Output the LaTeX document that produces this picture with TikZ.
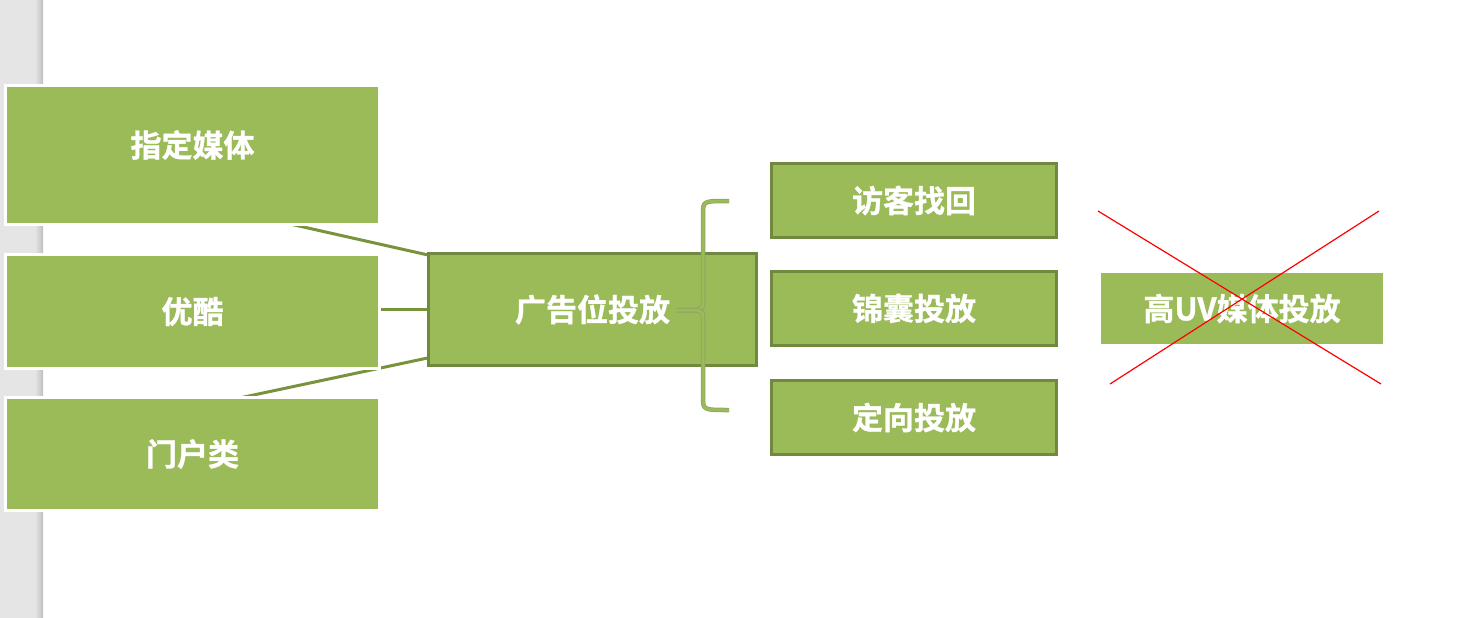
\documentclass[tikz,border=0pt]{standalone}
\usepackage{fontspec}
\setmainfont{Noto Sans CJK SC}[BoldFont={Noto Sans CJK SC Bold},BoldFeatures={FakeBold=1}]
\usetikzlibrary{backgrounds}
\definecolor{leaf}{HTML}{9BBB59}
\definecolor{leafedge}{HTML}{71893F}
\definecolor{leafline}{HTML}{77933C}

\begin{document}
\begin{tikzpicture}[x=1pt,y=-1pt,
  txt/.style={text=white, font=\fontsize{31}{31}\selectfont\bfseries},
  box/.style={txt, fill=leaf, inner sep=0pt},
  leftbox/.style={box, draw=white, line width=3pt, minimum width=374pt},
  framed/.style={box, draw=leafedge, line width=3pt},
  link/.style={leafline, line width=3pt},
  brace/.style={line width=3pt, line join=round,
    preaction={draw=leafedge!80, line width=4.5pt, line join=round}, draw=leaf}]
  \useasboundingbox (0,0) rectangle (1459,618);
  % page edge
  \fill[black!10] (0,0) rectangle (35,618);
  \shade[left color=black!10, right color=black!25] (35,0) rectangle (43,618);

  \node[leftbox, minimum height=139pt, label={[txt,yshift=10pt]center:指定媒体}] (media) at (192.5,155) {};
  \node[leftbox, minimum height=114pt] (youku) at (192.5,311.5) {优酷};
  \node[leftbox, minimum height=113pt] (portal) at (192.5,454) {门户类};
  \node[framed, minimum width=328pt, minimum height=112pt] (hub) at (592.5,309.5) {广告位投放};
  \node[framed, minimum width=285pt, minimum height=74pt] (visit) at (914,200.5) {访客找回};
  \node[framed, minimum width=285pt, minimum height=74pt] (bag) at (914,308.5) {锦囊投放};
  \node[framed, minimum width=285pt, minimum height=74pt] (target) at (914,417.5) {定向投放};
  \node[box, minimum width=282pt, minimum height=71pt] (uv) at (1242,308.5) {高UV媒体投放};

  \begin{scope}[on background layer]
    \coordinate (m1) at (250,215);
    \coordinate (m3) at (230,400);
    \draw[link] (m1) -- ([xshift=10pt,yshift=-5pt]hub.north west);
    \draw[link] (youku.east |- hub.west) -- (hub.west);
    \draw[link] (m3) -- ([xshift=10pt,yshift=11pt]hub.south west);
  \end{scope}

  % brace
  \coordinate (tip) at (676,310);
  \draw[brace] (729,201) .. controls (703,201) .. (703,214) -- (703,300)
    .. controls (703,308) .. (696,310) -- (tip);
  \draw[brace] (729,410) .. controls (703,410) .. (703,397) -- (703,320)
    .. controls (703,312) .. (696,310) -- (tip);

  % struck out
  \draw[red, line width=1.2pt] (1098,211) -- (1381,384);
  \draw[red, line width=1.2pt] (1379,211) -- (1110,384);
\end{tikzpicture}
\end{document}
